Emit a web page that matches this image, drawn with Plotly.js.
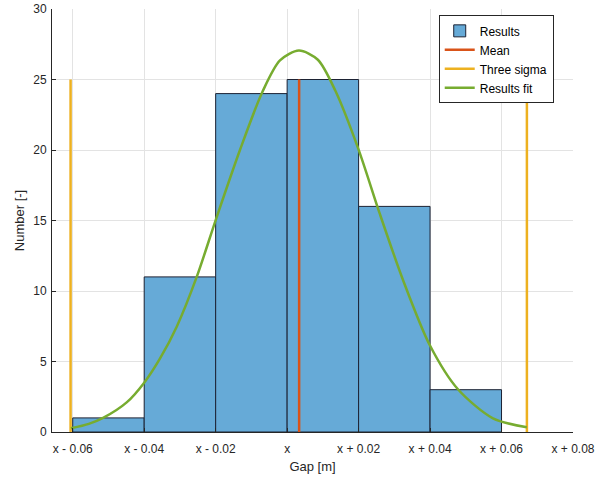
<!DOCTYPE html>
<html>
<head>
<meta charset="utf-8">
<script src="https://cdn.plot.ly/plotly-3.0.1.min.js"></script>
<style>html,body{margin:0;padding:0;background:#fff;}#chart{width:598px;height:482px;}</style>
</head>
<body>
<div id="chart"></div>
<script>
// Histogram bins (centres, offsets from x in metres) and counts
var binCenters = [-0.05, -0.03, -0.01, 0.01, 0.03, 0.05];
var binWidth = 0.02;
var counts = [1, 11, 24, 25, 16, 3];

// Mean and three-sigma markers
var meanX = 0.00336;
var sigmaLow = -0.0606;
var sigmaHigh = 0.0671;
var markerHeight = 25;

// Fitted curve points
var fitX = [-0.0605, -0.0555, -0.0515, -0.0449, -0.04, -0.0356, -0.0309, -0.0253, -0.0199, -0.0132, -0.0069, -0.002, 0.0033, 0.0086, 0.0135, 0.0199, 0.0259, 0.0324, 0.0399, 0.0478, 0.0576, 0.0671];
var fitY = [0.26, 0.58, 1.0, 2.1, 3.5, 5.2, 7.47, 11.0, 15.1, 20.0, 24.13, 26.35, 27.05, 26.4, 24.2, 20.1, 15.5, 10.8, 6.17, 3.03, 0.97, 0.33];

// Axis ticks
var xTickVals = [-0.06, -0.04, -0.02, 0, 0.02, 0.04, 0.06, 0.08];
var xTickText = ['x - 0.06', 'x - 0.04', 'x - 0.02', 'x', 'x + 0.02', 'x + 0.04', 'x + 0.06', 'x + 0.08'];
var yTickVals = [0, 5, 10, 15, 20, 25, 30];

var traces = [
  {
    type: 'bar', name: 'Results', x: binCenters, y: counts,
    width: binCenters.map(function(){return binWidth;}),
    marker: {color: 'rgb(102,170,215)', line: {color: '#1c2233', width: 1}}
  },
  {
    type: 'scatter', mode: 'lines', name: 'Mean',
    x: [meanX, meanX], y: [0, markerHeight],
    line: {color: '#D95319', width: 2.5}
  },
  {
    type: 'scatter', mode: 'lines', name: 'Three sigma',
    x: [sigmaLow, sigmaLow, null, sigmaHigh, sigmaHigh],
    y: [0, markerHeight, null, 0, markerHeight],
    line: {color: '#EDB120', width: 2.5}
  },
  {
    type: 'scatter', mode: 'lines', name: 'Results fit',
    x: fitX, y: fitY,
    line: {color: '#77AC30', width: 2.5, shape: 'spline', smoothing: 0.8}
  }
];

var layout = {
  width: 598, height: 482,
  margin: {l: 52, r: 25, t: 9, b: 50},
  paper_bgcolor: '#fff', plot_bgcolor: '#fff',
  font: {family: 'Liberation Sans, Arial, sans-serif', size: 12, color: '#262626'},
  showlegend: true,
  bargap: 0,
  xaxis: {
    range: [-0.0658, 0.08], tickvals: xTickVals, ticktext: xTickText,
    showgrid: true, gridcolor: '#e3e3e3', zeroline: false,
    showline: true, linecolor: '#262626', linewidth: 1,
    ticks: 'inside', ticklen: 4, tickcolor: '#262626',
    ticklabelstandoff: 6,
    tickfont: {size: 12, color: '#262626'},
    title: {text: 'Gap [m]', font: {size: 13, color: '#262626'}, standoff: 6}
  },
  yaxis: {
    range: [0, 30], tickvals: yTickVals,
    showgrid: true, gridcolor: '#e3e3e3', zeroline: false,
    showline: true, linecolor: '#262626', linewidth: 1,
    ticks: 'inside', ticklen: 4, tickcolor: '#262626',
    ticklabelstandoff: 2,
    tickfont: {size: 12, color: '#262626'},
    title: {text: 'Number [-]', font: {size: 13, color: '#262626'}, standoff: 5}
  },
  legend: {
    x: 0.963, y: 0.985, xanchor: 'right', yanchor: 'top',
    bgcolor: '#fff', bordercolor: '#262626', borderwidth: 1,
    font: {size: 12, color: '#000'},
    tracegroupgap: 0, itemwidth: 30
  }
};

Plotly.newPlot('chart', traces, layout, {displayModeBar: false, staticPlot: true});
</script>
</body>
</html>
